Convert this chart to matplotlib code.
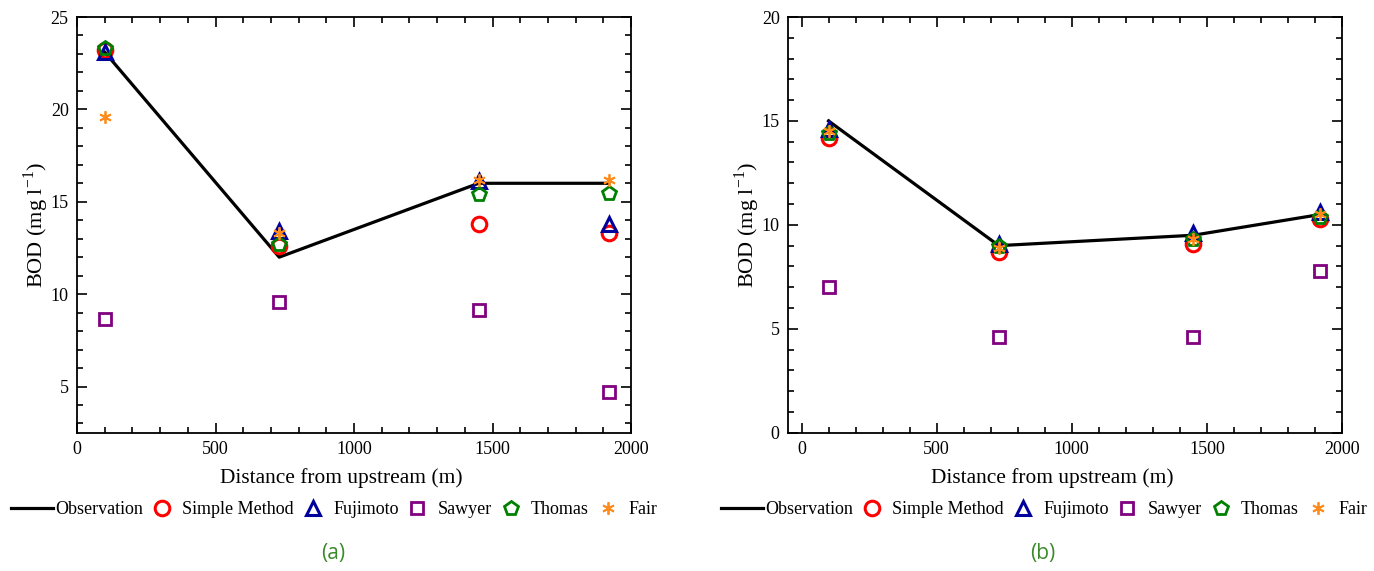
import matplotlib
matplotlib.use("Agg")
import matplotlib.pyplot as plt
from matplotlib.ticker import MultipleLocator
from matplotlib.lines import Line2D
from matplotlib.legend_handler import HandlerLine2D

# ---- data ----
distance = [100, 730, 1450, 1920]

# panel (a)
obs_a = [23.1, 12.0, 16.0, 16.0]
simple_a = [23.2, 12.6, 13.8, 13.3]
fujimoto_a = [23.1, 13.4, 16.1, 13.8]
sawyer_a = [8.65, 9.6, 9.15, 4.7]
thomas_a = [23.3, 12.7, 15.4, 15.5]
fair_a = [19.6, 13.3, 16.2, 16.2]

# panel (b)
obs_b = [15.0, 9.0, 9.5, 10.5]
simple_b = [14.2, 8.7, 9.1, 10.3]
fujimoto_b = [14.6, 9.1, 9.6, 10.6]
sawyer_b = [7.0, 4.6, 4.6, 7.8]
thomas_b = [14.4, 9.0, 9.3, 10.4]
fair_b = [14.5, 8.9, 9.3, 10.5]

labels = ["Observation", "Simple Method", "Fujimoto", "Sawyer", "Thomas", "Fair"]
captions = ["(a)", "(b)"]

W, H = 1374, 571
fig = plt.figure(figsize=(W / 100, H / 100), dpi=100)

serif = "Liberation Serif"

def px_axes(l, r, t, b):
    return fig.add_axes([l / W, (H - b) / H, (r - l) / W, (b - t) / H])

styles = [
    dict(marker="o", ms=10.5, mfc="none", mec="#ff0000", mew=2.2, ls="none"),
    dict(marker="^", ms=10.5, mfc="none", mec="#00009c", mew=2.2, ls="none"),
    dict(marker="s", ms=8, mfc="none", mec="#800080", mew=2.0, ls="none"),
    dict(marker="p", ms=10.5, mfc="none", mec="#008000", mew=2.0, ls="none"),
    dict(marker=(6, 2, 0), ms=9, mfc="none", mec="#ff8c1a", mew=1.3, ls="none"),
]

def draw(ax, obs, series, xlim, ylim, yticks):
    ax.plot(distance, obs, color="black", lw=2.3, zorder=2)
    for vals, st in zip(series, styles):
        ax.plot(distance, vals, zorder=3, **st)
    ax.set_xlim(*xlim)
    ax.set_ylim(*ylim)
    ax.set_xticks([0, 500, 1000, 1500, 2000])
    ax.set_yticks(yticks)
    ax.xaxis.set_minor_locator(MultipleLocator(100))
    ax.yaxis.set_minor_locator(MultipleLocator(1))
    ax.tick_params(which="both", direction="in", top=True, right=True, width=1.2, labelsize=13, pad=6)
    ax.tick_params(which="major", length=7)
    ax.tick_params(which="minor", length=4)
    for lab in ax.get_xticklabels() + ax.get_yticklabels():
        lab.set_fontfamily(serif)
    for sp in ax.spines.values():
        sp.set_linewidth(1.3)
    ax.set_xlabel("Distance from upstream (m)", fontsize=15.4, fontfamily=serif)
    ax.set_ylabel("BOD (mg l$^{\\mathregular{-1}}$)", fontsize=16, fontfamily=serif, labelpad=0)
    ax.xaxis.set_label_coords(0.478, -0.085)


class LongLineHandler(HandlerLine2D):
    """Observation handle: a line that extends beyond the handle box."""
    def create_artists(self, legend, orig_handle, xdescent, ydescent, width, height, fontsize, trans):
        y = height / 2.0 - ydescent
        ln = Line2D([-xdescent - 0.88 * fontsize, width + 0.53 * fontsize], [y, y],
                    color=orig_handle.get_color(), lw=orig_handle.get_linewidth())
        ln.set_transform(trans)
        return [ln]


ax1 = px_axes(77, 631, 17, 432.7)
draw(ax1, obs_a, [simple_a, fujimoto_a, sawyer_a, thomas_a, fair_a],
     (0, 2000), (2.5, 25), [5, 10, 15, 20, 25])

ax2 = px_axes(788, 1342, 17, 432.7)
draw(ax2, obs_b, [simple_b, fujimoto_b, sawyer_b, thomas_b, fair_b],
     (-50, 2000), (0, 20), [0, 5, 10, 15, 20])

obs_handle = Line2D([], [], color="black", lw=2.3)
handles = [obs_handle] + [Line2D([], [], **st) for st in styles]

for cx in [342, 1052]:
    fig.legend(handles, labels, loc="center", bbox_to_anchor=(cx / W, (H - 510) / H),
               ncol=6, frameon=False, prop=dict(family=serif, size=13),
               handlelength=0.886, handletextpad=0.68, columnspacing=0.6, borderpad=0,
               handler_map={obs_handle: LongLineHandler()})
for cx, cap in zip([333, 1043], captions):
    fig.text(cx / W, (H - 553) / H, cap, ha="center", va="center",
             fontsize=15, fontfamily="Open Sans", color="#3a8a2a")

fig.savefig("out.png", dpi=100)
